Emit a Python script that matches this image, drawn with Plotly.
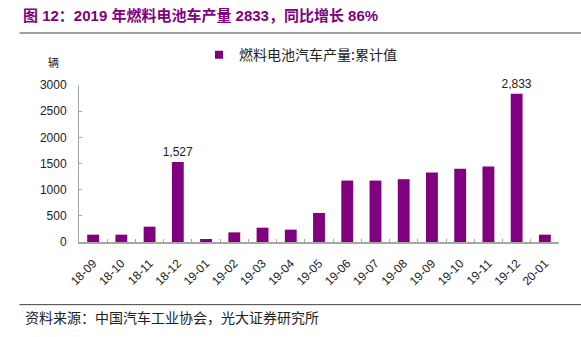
import plotly.graph_objects as go

categories = ["18-09", "18-10", "18-11", "18-12", "19-01", "19-02", "19-03", "19-04",
              "19-05", "19-06", "19-07", "19-08", "19-09", "19-10", "19-11", "19-12", "20-01"]
values = [140, 140, 293, 1527, 57, 184, 274, 236,
          555, 1174, 1174, 1200, 1328, 1398, 1443, 2833, 140]
labeled = ["18-12", "19-12"]
series_name = "燃料电池汽车产量:累计值"
y_ticks = [0, 500, 1000, 1500, 2000, 2500, 3000]

PURPLE = "#800080"
GRAY = "#A6A6A6"
CJK = "Noto Sans CJK SC"
LAT = "Liberation Sans, Arial"

texts = [f"{v:,}" if c in labeled else "" for c, v in zip(categories, values)]

fig = go.Figure()
fig.add_trace(go.Bar(
    x=categories, y=values, marker=dict(color=PURPLE, line=dict(width=0)),
    text=texts, textposition="outside", cliponaxis=False, constraintext="none",
    textfont=dict(family=LAT, size=12, color="#222222"),
    showlegend=False,
))
fig.add_trace(go.Scatter(
    x=[None], y=[None], mode="markers", name=series_name,
    marker=dict(symbol="square", size=8, color=PURPLE),
))

fig.update_layout(
    width=581, height=337,
    margin=dict(l=79, r=22, t=85, b=95),
    paper_bgcolor="white", plot_bgcolor="white",
    bargap=0.58,
    font=dict(family=LAT, size=12, color="#222222"),
    legend=dict(x=0.25, y=1.19, xanchor="left", yanchor="middle",
                font=dict(family=CJK, size=14, color="#222222"),
                itemwidth=30, bgcolor="rgba(0,0,0,0)"),
    xaxis=dict(type="category", showline=True, linecolor=GRAY, linewidth=1.5,
               ticks="inside", ticklen=3, tickcolor=GRAY, tickson="boundaries",
               tickangle=-45, ticklabelstandoff=8,
               tickfont=dict(family=LAT, size=12, color="#222222"),
               showgrid=False, zeroline=False),
    yaxis=dict(range=[0, 3000], tickvals=y_ticks, showline=True, linecolor=GRAY,
               linewidth=1, ticks="inside", ticklen=3, tickcolor=GRAY,
               tickfont=dict(family=LAT, size=12, color="#222222"),
               showgrid=False, zeroline=False, ticklabelstandoff=9),
)

fig.add_annotation(xref="paper", yref="paper", x=-0.121, y=1.44, xanchor="left",
                   yanchor="middle", showarrow=False,
                   text="<b>图 12：2019 年燃料电池车产量 2833，同比增长 86%</b>",
                   font=dict(family=f"{LAT}, {CJK}", size=15, color=PURPLE))
fig.add_annotation(xref="paper", yref="paper", x=-0.053, y=1.146, showarrow=False,
                   xanchor="center", yanchor="middle",
                   text="辆", font=dict(family=CJK, size=11, color="#222222"))
fig.add_annotation(xref="paper", yref="paper", x=-0.117, y=-0.48, xanchor="left",
                   yanchor="middle", showarrow=False,
                   text="资料来源：中国汽车工业协会，光大证券研究所",
                   font=dict(family=CJK, size=14, color="#222222"))
fig.add_shape(type="line", xref="paper", yref="paper", x0=-0.124, x1=1.05,
              y0=1.331, y1=1.331, line=dict(color="#808080", width=1.5))
fig.add_shape(type="line", xref="paper", yref="paper", x0=-0.124, x1=1.05,
              y0=-0.399, y1=-0.399, line=dict(color="#404040", width=1))

fig.write_html("out.html")
